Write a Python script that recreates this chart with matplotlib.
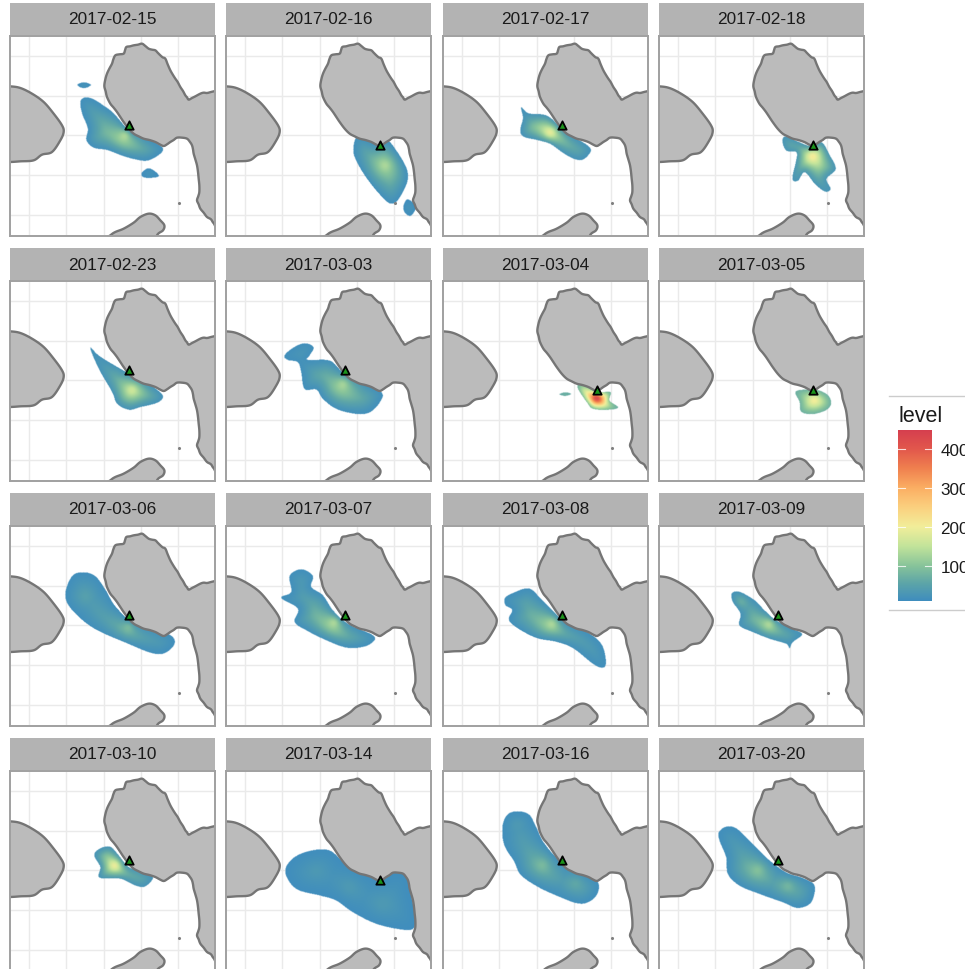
import numpy as np
import matplotlib
matplotlib.use("Agg")
import matplotlib.pyplot as plt
from matplotlib.colors import LinearSegmentedColormap, Normalize
from matplotlib.lines import Line2D
from matplotlib.patches import Polygon
from matplotlib.path import Path

plt.rcParams['font.family'] = ['Liberation Sans', 'DejaVu Sans']

# ---- map geometry (panel units) ----
MAIN_LAND = [(640,160),(616,165),(603,168),(591,171),(581,170),(571,173),(556,181),(546,186),(536,191),(531,184),(526,178),(519,165),
             (511,153),(503,138),(496,128),(489,117),(481,103),(473,85),(466,68),(458,64),(451,58),(443,50),(436,43),(426,41),(416,38),
             (406,30),(396,23),(384,26),(371,28),(360,31),(349,33),(345,43),(341,53),(328,55),(316,58),(310,70),(306,83),(298,98),(291,113),(286,130),(283,150),
             (287,166),(291,183),(301,203),(311,215),(321,228),(331,243),(341,258),(356,278),(371,293),(386,301),(401,308),(418,312),(436,318),(449,325),(461,330),
             (471,325),(481,318),(491,312),(501,305),(516,305),(531,308),(540,318),(546,328),(549,340),(551,353),(556,370),(561,388),(564,408),(566,428),(568,448),(568,468),
             (565,480),(561,493),(566,505),(571,518),(581,530),(591,543),(603,550),(612,563),(640,590),(680,400)]
WEST_LAND = [(-40,150),(0,151),(31,156),(66,173),(101,198),(131,233),(156,268),(161,288),(151,313),(126,348),(96,356),(71,373),(31,376),(0,378),(-40,378),(-60,260)]
SOUTH_LAND = [(270,625),(301,598),(316,588),(341,578),(371,560),(391,543),(416,533),(436,538),(451,553),(463,568),(459,583),(441,598),(430,640)]
ISLET = (508, 501)
GRID_X = [56, 168, 281, 393, 504]
GRID_Y = [60, 180, 298, 418, 538]
SITE_A = (356, 266)
SITE_B = (463, 328)

# ---- density outlines per day: outline, cores (x, y, peak level), edge level ----
B0215 = [([(211,198),(226,185),(251,191),(281,210),(311,233),(356,283),(391,298),(441,323),(459,340),(446,358),(411,375),(371,370),(331,358),(291,343),(251,336),(229,313),(233,278),(216,233)], [(346,298,130)], 15),
         ([(203,146),(222,138),(243,146),(222,156)], [(222,147,22)], 12),
         ([(396,410),(415,396),(435,405),(446,420),(420,425),(400,422)], [(420,412,22)], 12)]
B0216 = [([(381,333),(393,300),(421,308),(451,323),(481,313),(511,348),(539,398),(541,438),(516,488),(496,503),(471,488),(421,428),(386,368)], [(476,388,130)], 15),
         ([(533,513),(546,491),(571,513),(556,540),(539,533)], [(552,516,22)], 12)]
B0217 = [([(235,215),(257,233),(312,240),(357,278),(392,303),(432,328),(444,346),(422,371),(397,371),(362,353),(322,325),(282,313),(242,303),(232,283),(240,248)], [(322,291,185)], 20)]
B0218 = [([(370,313),(382,300),(417,316),(452,328),(487,318),(512,358),(529,398),(502,428),(514,458),(497,466),(467,443),(437,408),(417,433),(400,428),(410,378),(412,348),(382,343)], [(460,358,205)], 25)]
B0223 = [([(241,201),(271,228),(356,278),(401,300),(436,323),(458,346),(441,365),(391,378),(356,386),(321,368),(306,333),(266,263)], [(366,326,160)], 20)]
B0303 = [([(175,223),(200,200),(235,186),(262,198),(250,223),(245,236),(310,238),(350,273),(410,303),(465,333),(460,363),(430,393),(390,398),(330,383),(290,353),(270,325),(235,323),(225,273),(215,243),(185,236)], [(350,308,125)], 15)]
B0304 = [([(404,318),(422,308),(462,333),(502,333),(500,358),(525,378),(502,385),(452,383),(432,363)], [(462,346,420)], 70),
         ([(350,341),(367,335),(384,340),(367,346)], [(367,340,72)], 62)]
B0305 = [([(410,333),(447,326),(477,328),(507,343),(517,368),(502,388),(462,400),(427,393),(422,363)], [(467,358,200)], 70)]
B0306 = [([(166,208),(186,153),(221,141),(256,153),(286,193),(316,243),(371,293),(441,313),(486,333),(491,358),(461,383),(421,381),(351,353),(251,308),(186,253)], [(356,303,85),(226,213,46)], 14)]
B0307 = [([(190,150),(225,130),(260,150),(255,183),(290,208),(320,253),(365,293),(440,328),(440,348),(410,363),(360,365),(300,343),(240,313),(205,288),(215,248),(165,216),(195,198)], [(325,288,130)], 15)]
B0308 = [([(185,218),(207,203),(257,188),(292,218),(322,248),(372,293),(432,318),(477,358),(487,418),(457,418),(392,368),(342,348),(272,333),(200,288),(207,253),(187,238)], [(327,293,130)], 15)]
B0309 = [([(219,203),(242,198),(287,223),(317,253),(352,283),(402,308),(430,325),(402,348),(392,366),(382,353),(332,338),(282,318),(242,298),(245,263),(222,228)], [(332,293,130),(247,228,65)], 20)]
B0310 = [([(253,253),(271,233),(301,228),(326,253),(356,288),(391,298),(429,318),(406,346),(376,343),(331,323),(269,320),(271,288)], [(316,283,190)], 22)]
B0314 = [([(178,303),(200,263),(250,240),(310,238),(360,278),(440,320),(480,318),(510,303),(545,318),(555,368),(568,428),(565,470),(530,476),(450,458),(380,423),(330,388),(280,373),(210,353)], [(370,348,34),(270,300,32),(470,400,34)], 12)]
B0316 = [([(177,168),(192,133),(222,123),(257,133),(277,168),(302,218),(352,273),(412,303),(462,333),(462,368),(437,393),(402,398),(342,376),(282,348),(232,313),(212,273),(182,223)], [(297,283,85),(397,338,58),(222,165,34)], 14)]
B0320 = [([(180,183),(202,166),(232,171),(272,208),(327,263),(382,303),(432,320),(467,343),(457,393),(417,410),(372,393),(302,368),(242,343),(207,308),(202,258),(182,208)], [(297,296,95),(387,343,78)], 14)]

DATES = ["2017-02-15","2017-02-16","2017-02-17","2017-02-18",
         "2017-02-23","2017-03-03","2017-03-04","2017-03-05",
         "2017-03-06","2017-03-07","2017-03-08","2017-03-09",
         "2017-03-10","2017-03-14","2017-03-16","2017-03-20"]
BLOBS = [B0215,B0216,B0217,B0218,B0223,B0303,B0304,B0305,B0306,B0307,B0308,B0309,B0310,B0314,B0316,B0320]
SITES = [SITE_A,SITE_B,SITE_A,SITE_B,SITE_A,SITE_A,SITE_B,SITE_B,SITE_A,SITE_A,SITE_A,SITE_A,SITE_A,SITE_B,SITE_A,SITE_A]

LEVEL_TICKS = [100, 200, 300, 400]
LEVEL_MIN, LEVEL_MAX = 10, 450
CMAP_LEVELS = [10, 55, 100, 150, 200, 250, 300, 350, 400, 450]
CMAP_COLORS = ["#3F8DBE","#5DA5A8","#88C49A","#C3E49B","#F2EE9A","#FBD07F","#FBAE63","#F0804F","#E2574C","#D53E4F"]

cmap = LinearSegmentedColormap.from_list(
    "lv", [((l-LEVEL_MIN)/(LEVEL_MAX-LEVEL_MIN), c) for l, c in zip(CMAP_LEVELS, CMAP_COLORS)])
norm = Normalize(LEVEL_MIN, LEVEL_MAX)

W, H = 965, 970
fig = plt.figure(figsize=(W/100, H/100), dpi=100, facecolor="white")

def px_axes(x, y, w, h, **kw):
    return fig.add_axes([x/W, 1-(y+h)/H, w/W, h/H], **kw)

def smooth(pts, n=8):
    p = np.asarray(pts, float)
    m = len(p)
    out = []
    for i in range(m):
        p0, p1, p2, p3 = p[(i-1) % m], p[i], p[(i+1) % m], p[(i+2) % m]
        for t in np.linspace(0, 1, n, endpoint=False):
            out.append(0.5*((2*p1)+(-p0+p2)*t+(2*p0-5*p1+4*p2-p3)*t**2+(-p0+3*p1-3*p2+p3)*t**3))
    return np.array(out)

def box_blur(a, r):
    k = np.ones(2*r+1)/(2*r+1)
    a = np.apply_along_axis(lambda v: np.convolve(v, k, mode="same"), 0, a)
    return np.apply_along_axis(lambda v: np.convolve(v, k, mode="same"), 1, a)

def draw_blob(ax, outline, cores, base, step=1.5, exponent=1.2):
    sm = smooth(outline)
    pad = 12
    xs = np.arange(sm[:, 0].min()-pad, sm[:, 0].max()+pad, step)
    ys = np.arange(sm[:, 1].min()-pad, sm[:, 1].max()+pad, step)
    X, Y = np.meshgrid(xs, ys)
    P = np.c_[X.ravel(), Y.ravel()]
    inside = Path(sm).contains_points(P).reshape(X.shape)
    dense = sm[::2].astype(np.float32)
    d = np.sqrt(((P[:, None, :].astype(np.float32)-dense[None, :, :])**2).sum(-1)).min(1).reshape(X.shape)
    db = np.where(inside, d, 0.0)
    val = np.zeros(X.shape)
    for cx, cy, peak in cores:
        dc = np.hypot(X-cx, Y-cy)
        u = db/(db+dc+1e-6)
        u = box_blur(box_blur(u, 5), 5)
        u = u/u.max()
        val = np.maximum(val, (peak-base)*u**exponent)
    val = base+val
    rgba = cmap(norm(val))
    rgba[..., 3] = np.clip((d*np.where(inside, 1, -1)+1.5)/3.0, 0, 1)
    ax.imshow(rgba, extent=[xs[0]-step/2, xs[-1]+step/2, ys[-1]+step/2, ys[0]-step/2],
              interpolation="bilinear", aspect="auto", zorder=2)

COL_X = [10, 226, 443, 659]
ROW_Y = [37, 282, 527, 772]
PW, PH = 205, 200

for k, date in enumerate(DATES):
    r, c = divmod(k, 4)
    x0, y0 = COL_X[c], ROW_Y[r]
    st = px_axes(x0, y0-33, PW, 32, facecolor="#B3B3B3")
    st.set_xticks([]); st.set_yticks([])
    for s in st.spines.values():
        s.set_visible(False)
    st.text(0.5, 0.5, date, ha="center", va="center", fontsize=12.4, color="#1A1A1A", transform=st.transAxes)

    ax = px_axes(x0, y0, PW, PH, facecolor="white")
    for g in GRID_X:
        ax.axvline(g, color="#EAEAEA", lw=1.0, zorder=1)
    for g in GRID_Y:
        ax.axhline(g, color="#EAEAEA", lw=1.0, zorder=1)
    for outline, cores, base in BLOBS[k]:
        draw_blob(ax, outline, cores, base)
    for land, nsm in ((MAIN_LAND, 4), (WEST_LAND, 8), (SOUTH_LAND, 8)):
        ax.add_patch(Polygon(smooth(land, nsm), closed=True, fc="#BBBBBB", ec="#757575", lw=1.7, zorder=3, joinstyle="round"))
    ax.scatter([ISLET[0]], [ISLET[1]], s=5, marker="o", color="#808080", zorder=3, linewidths=0)
    ax.scatter([SITES[k][0]], [SITES[k][1]], s=36, marker="^", fc="#1C941C", ec="black", lw=1.3, zorder=5)
    ax.set_xlim(0, 615); ax.set_ylim(600, 0)
    ax.set_xticks([]); ax.set_yticks([])
    for s in ax.spines.values():
        s.set_color("#A0A0A0"); s.set_linewidth(1.4); s.set_zorder(6)

# legend
for yy in (397, 611):
    fig.add_artist(Line2D([889/W, 1], [1-yy/H, 1-yy/H], color="#CCCCCC", lw=1.0))
fig.text(899/W, 1-416/H, "level", fontsize=15.5, ha="left", va="center", color="#1A1A1A")
cb = px_axes(898, 431, 34, 171)
grad = np.linspace(LEVEL_MAX, LEVEL_MIN, 256).reshape(-1, 1)
cb.imshow(grad, aspect="auto", cmap=cmap, norm=norm, extent=[0, 1, LEVEL_MIN, LEVEL_MAX])
cb.set_xticks([])
cb.set_yticks(LEVEL_TICKS)
cb.set_yticklabels([str(v) for v in LEVEL_TICKS], fontsize=12.3, color="#1A1A1A")
cb.yaxis.tick_right()
cb.tick_params(axis="y", length=0, pad=6)
for s in cb.spines.values():
    s.set_visible(False)
for v in LEVEL_TICKS:
    cb.plot([0, 0.2], [v, v], color="white", lw=0.8, alpha=0.8)
    cb.plot([0.8, 1], [v, v], color="white", lw=0.8, alpha=0.8)
cb.set_xlim(0, 1); cb.set_ylim(LEVEL_MIN, LEVEL_MAX)

fig.savefig("out.png", dpi=100)
